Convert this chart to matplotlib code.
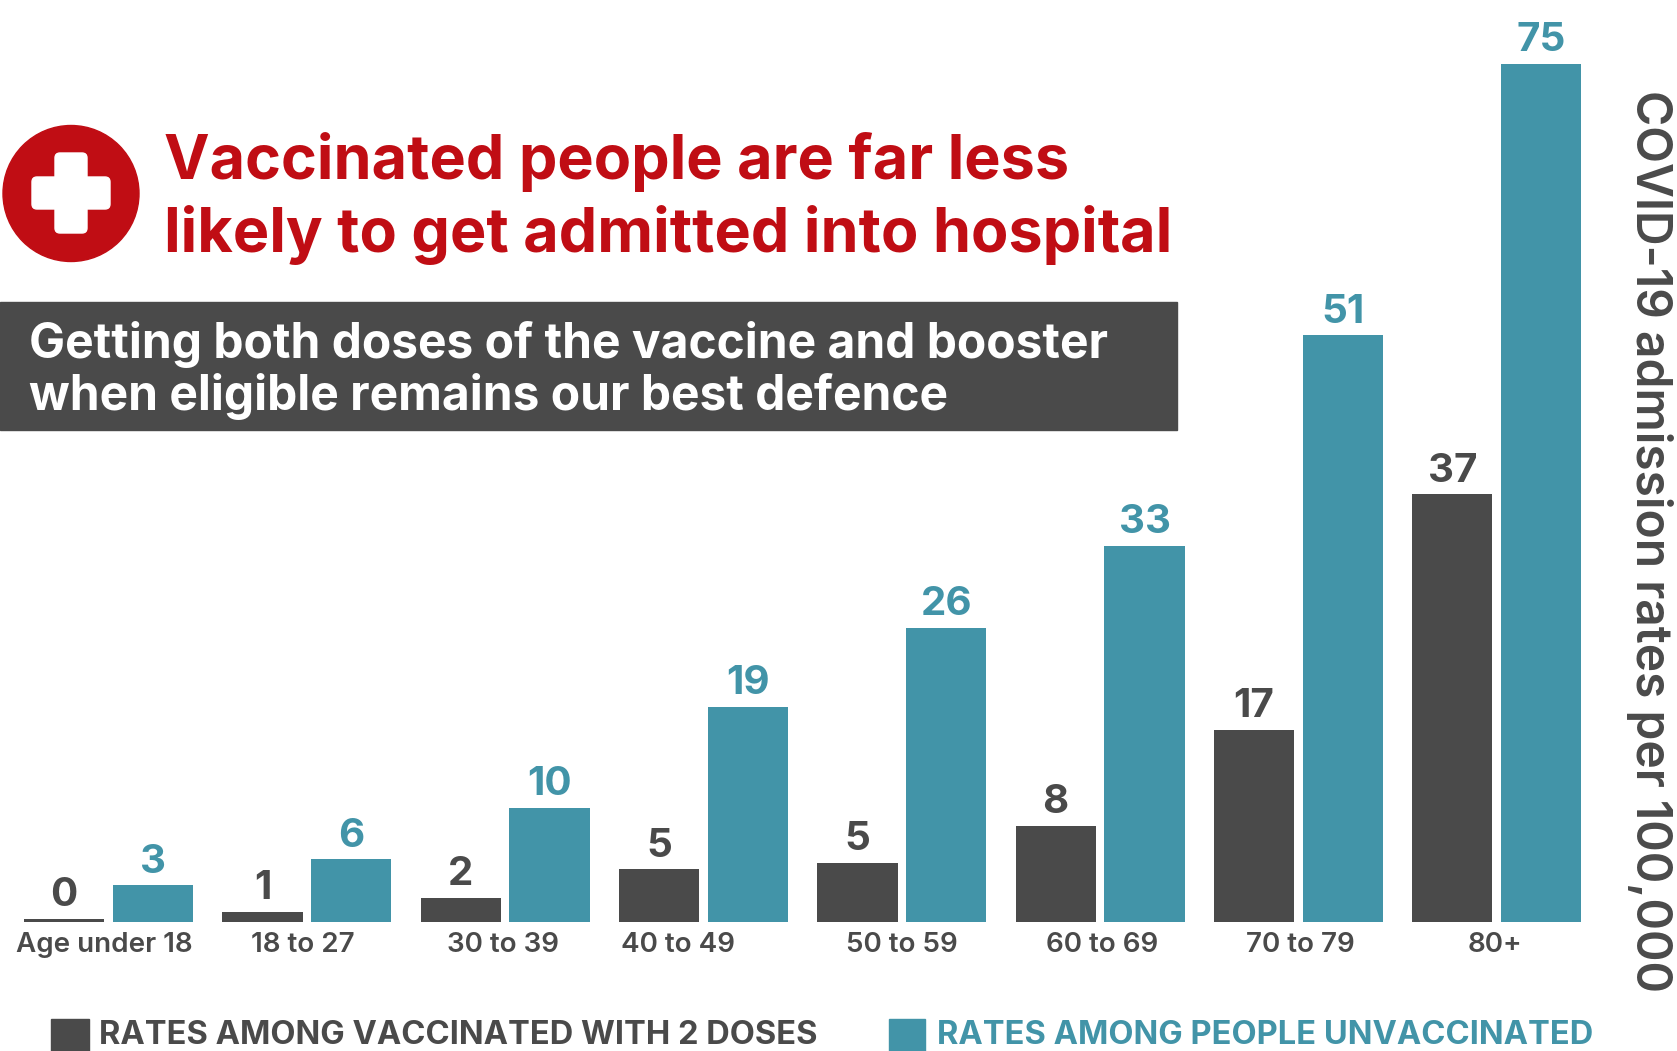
import matplotlib
matplotlib.use('Agg')
import matplotlib.pyplot as plt
from matplotlib.patches import Circle, Rectangle, FancyBboxPatch
import numpy as np

# labels printed on the chart
categories = ['Age under 18', '18 to 27', '30 to 39', '40 to 49', '50 to 59', '60 to 69', '70 to 79', '80+']
vaccinated_labels = ['0', '1', '2', '5', '5', '8', '17', '37']
unvaccinated_labels = ['3', '6', '10', '19', '26', '33', '51', '75']

# bar heights (the printed labels are rounded)
vaccinated = [0.3, 0.9, 2.1, 4.6, 5.2, 8.4, 16.8, 37.4]
unvaccinated = [3.2, 5.5, 10.0, 18.8, 25.7, 32.9, 51.3, 75.0]

# x position of each category label, they are not quite centred in the original
label_pos = [-0.02, 0.98, 1.99, 2.87, 4.0, 5.01, 6.01, 6.99]

DARK = '#4a4a4a'
TEAL = '#4294a8'
RED = '#c00d14'
FONT = 'Inter'

plt.rcParams['font.family'] = [FONT, 'DejaVu Sans']

fig = plt.figure(figsize=(16.77, 10.51), dpi=100)

# bars
ax = fig.add_axes([0, 129 / 1051, 1, 922 / 1051])
x = np.arange(len(categories))
width = 0.405
offset = 0.224
ax.bar(x - offset, vaccinated, width, color=DARK)
ax.bar(x + offset, unvaccinated, width, color=TEAL)
for i in x:
    ax.text(i - offset, vaccinated[i] + 1.1, vaccinated_labels[i], ha='center', va='baseline',
            fontsize=29, fontweight='bold', color=DARK)
    ax.text(i + offset, unvaccinated[i] + 1.1, unvaccinated_labels[i], ha='center', va='baseline',
            fontsize=29, fontweight='bold', color=TEAL)
ax.set_xlim(-0.5476, 7.909)
ax.set_ylim(0, 80.6)
ax.set_xticks(label_pos)
ax.set_xticklabels(categories, fontsize=20, fontweight='semibold', color=DARK)
ax.tick_params(axis='x', length=0, pad=7)
ax.set_yticks([])
for s in ax.spines.values():
    s.set_visible(False)
ax.patch.set_alpha(0)

# header and legend drawn in pixel coordinates
top = fig.add_axes([0, 0, 1, 1])
top.set_xlim(0, 1677)
top.set_ylim(1051, 0)
top.axis('off')

top.add_patch(Circle((71, 193.5), 68, color=RED))
top.add_patch(FancyBboxPatch((37, 182), 68, 22, boxstyle='round,pad=5,rounding_size=5', color='white'))
top.add_patch(FancyBboxPatch((60, 158), 22, 70, boxstyle='round,pad=5,rounding_size=5', color='white'))
top.text(164, 179, 'Vaccinated people are far less', fontsize=44, fontweight='bold', color=RED, va='baseline')
top.text(164, 252, 'likely to get admitted into hospital', fontsize=44, fontweight='bold', color=RED, va='baseline')

top.add_patch(Rectangle((0, 301.5), 1177, 128.5, color=DARK))
top.text(29, 358, 'Getting both doses of the vaccine and booster', fontsize=34.5, fontweight='bold', color='white', va='baseline')
top.text(29, 409.5, 'when eligible remains our best defence', fontsize=34.5, fontweight='bold', color='white', va='baseline')

top.add_patch(Rectangle((51, 1019), 38, 32, color=DARK))
top.text(99.5, 1044, 'RATES AMONG VACCINATED WITH 2 DOSES', fontsize=23.5, fontweight='bold', color=DARK, va='baseline')
top.add_patch(Rectangle((889, 1019), 36, 32, color=TEAL))
top.text(937, 1044, 'RATES AMONG PEOPLE UNVACCINATED', fontsize=23.5, fontweight='bold', color=TEAL, va='baseline')

top.text(1650, 541, 'COVID-19 admission rates per 100,000', fontsize=34.5, fontweight='semibold', color=DARK,
         rotation=270, ha='center', va='center')

fig.savefig('out.png', dpi=100)
